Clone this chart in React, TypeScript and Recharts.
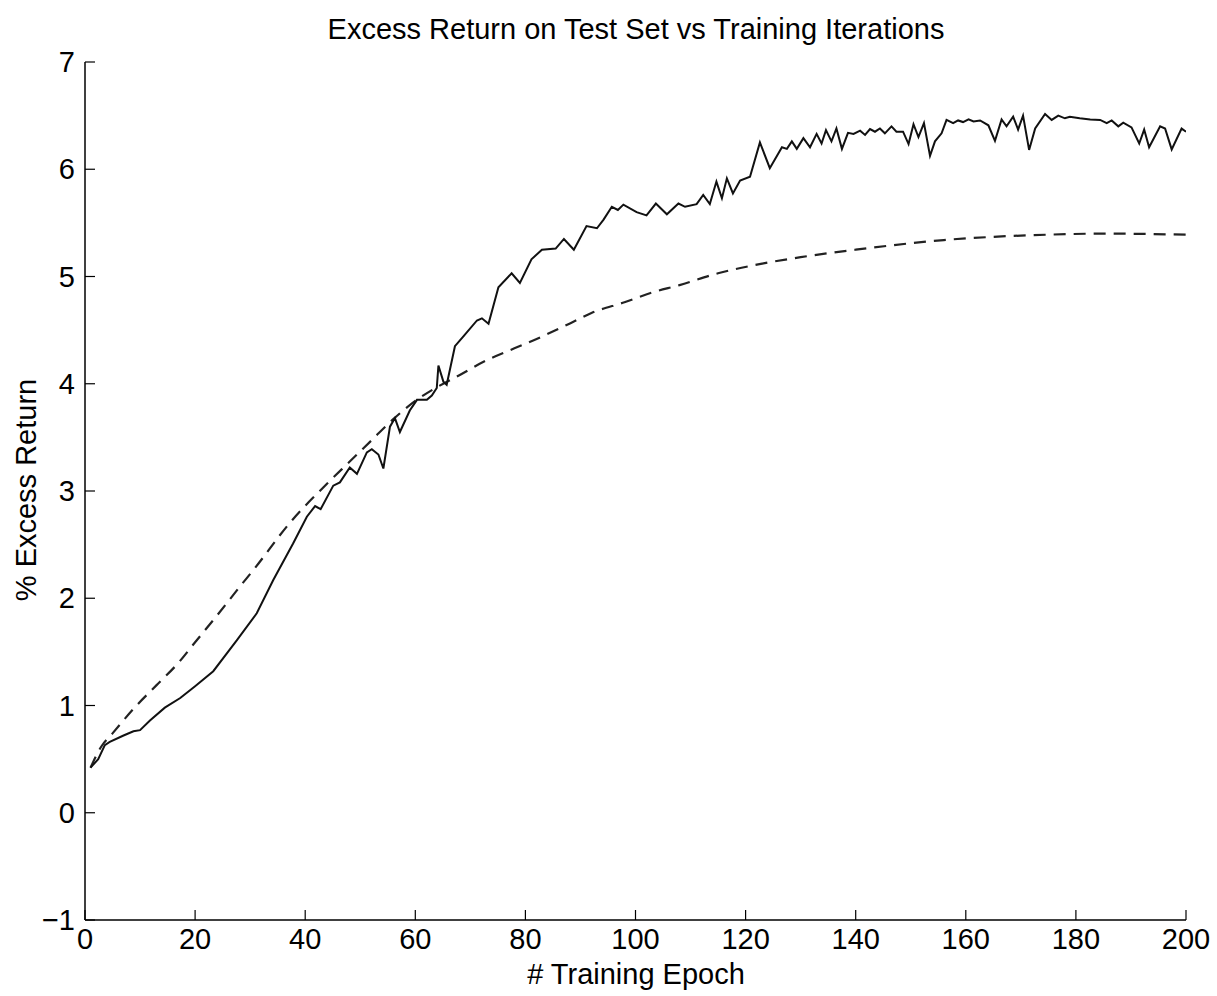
import { LineChart, Line, XAxis, YAxis } from "recharts"

// solid line: test set excess return
const testEpochs = [
  1, 2.4, 3.6, 4.5, 7, 8.8, 10, 11.8, 14.5, 17.3, 20, 23.3, 27.6, 31.2, 34.2, 37.8, 40.3, 41.8, 42.8, 45.1,
  46.3, 48.1, 49.4, 51.2, 52.1, 53.3, 54.2, 55.4, 56.3, 57.2, 59, 60.3, 62.1, 63, 63.9, 64.2, 65.1, 65.7, 67.2, 68.7,
  71.2, 72.1, 73.3, 75.1, 77.5, 79, 81.1, 83, 85.5, 87, 88.8, 91.1, 93, 94.2, 95.7, 96.8, 97.8, 100.2, 102, 103.7,
  105.7, 107.8, 109, 111.1, 112.3, 113.5, 114.7, 115.7, 116.6, 117.7, 119, 120.8, 122.6, 124.4, 126.6, 127.5, 128.4, 129.3, 130.5, 131.7,
  132.9, 133.8, 134.6, 135.6, 136.5, 137.5, 138.6, 139.6, 140.8, 141.7, 142.6, 143.5, 144.4, 145.3, 146.5, 147.4, 148.6, 149.6, 150.5, 151.4,
  152.4, 153.5, 154.4, 155.6, 156.5, 157.7, 158.6, 159.5, 160.5, 161.4, 162.6, 164.1, 165.3, 166.5, 167.4, 168.6, 169.5, 170.4, 171.5, 172.6,
  174.4, 175.6, 176.8, 178, 178.9, 180.7, 182.6, 184.4, 185.6, 186.5, 187.7, 188.6, 190.1, 191.5, 192.4, 193.3, 195.3, 196.2, 197.4, 199.2,
  200,
]
const testReturns = [
  0.42, 0.5, 0.63, 0.66, 0.72, 0.76, 0.77, 0.86, 0.98, 1.07, 1.18, 1.32, 1.61, 1.86, 2.17, 2.51, 2.76, 2.86, 2.83, 3.05,
  3.08, 3.22, 3.16, 3.36, 3.39, 3.34, 3.21, 3.6, 3.68, 3.55, 3.75, 3.85, 3.85, 3.89, 3.96, 4.17, 4.02, 3.99, 4.35, 4.44,
  4.59, 4.61, 4.56, 4.9, 5.03, 4.94, 5.16, 5.25, 5.26, 5.35, 5.25, 5.47, 5.45, 5.53, 5.65, 5.62, 5.67, 5.6, 5.57, 5.68,
  5.58, 5.68, 5.65, 5.675, 5.76, 5.675, 5.885, 5.73, 5.915, 5.775, 5.895, 5.93, 6.25, 6.01, 6.205, 6.19, 6.26, 6.19, 6.29, 6.205,
  6.33, 6.24, 6.365, 6.26, 6.38, 6.19, 6.34, 6.33, 6.36, 6.32, 6.375, 6.35, 6.38, 6.335, 6.4, 6.35, 6.35, 6.235, 6.42, 6.3,
  6.43, 6.125, 6.26, 6.335, 6.46, 6.43, 6.455, 6.44, 6.465, 6.445, 6.455, 6.41, 6.265, 6.465, 6.4, 6.49, 6.37, 6.5, 6.18, 6.38,
  6.515, 6.46, 6.5, 6.475, 6.49, 6.475, 6.465, 6.46, 6.43, 6.455, 6.4, 6.435, 6.39, 6.24, 6.37, 6.205, 6.4, 6.38, 6.185, 6.38,
  6.35,
]

// dashed line: smooth reference curve
const refEpochs = [1, 3, 5, 9, 13, 17, 20, 24, 28, 31, 37, 44, 48, 52, 56, 60, 64, 68, 73, 78, 83, 88, 92, 98, 103, 108, 115, 123, 130, 140, 150, 156, 165, 175, 185, 200]
const refReturns = [0.42, 0.62, 0.74, 0.98, 1.19, 1.4, 1.59, 1.84, 2.1, 2.29, 2.69, 3.07, 3.27, 3.47, 3.67, 3.84, 3.97, 4.08, 4.22, 4.33, 4.44, 4.56, 4.66, 4.76, 4.85, 4.92, 5.03, 5.12, 5.18, 5.25, 5.31, 5.34, 5.37, 5.39, 5.4, 5.39]

const xTicks = [0, 20, 40, 60, 80, 100, 120, 140, 160, 180, 200]
const yTicks = [-1, 0, 1, 2, 3, 4, 5, 6, 7]

const testData = testEpochs.map((epoch, i) => ({ epoch, value: testReturns[i] }))
const refData = refEpochs.map((epoch, i) => ({ epoch, value: refReturns[i] }))

const font = "'Liberation Sans', Arial, Helvetica, sans-serif"
const TICK = 10
// plot box edges
const BOX_L = 85
const BOX_R = 1186
const BOX_T = 62
const BOX_B = 920

function BottomTick({ x, payload }: any) {
  return (
    <g>
      <line x1={x} y1={BOX_B} x2={x} y2={BOX_B - TICK} stroke="#000" strokeWidth={1.2} />
      <text x={x} y={BOX_B + 29} textAnchor="middle" fontSize={29} fontFamily={font} fill="#000">
        {payload.value}
      </text>
    </g>
  )
}

function TopTick({ x }: any) {
  return <line x1={x} y1={BOX_T} x2={x} y2={BOX_T + TICK} stroke="#000" strokeWidth={1.2} />
}

function LeftTick({ y, payload }: any) {
  const label = payload.value < 0 ? "\u2212" + Math.abs(payload.value) : String(payload.value)
  return (
    <g>
      <line x1={BOX_L} y1={y} x2={BOX_L + TICK} y2={y} stroke="#000" strokeWidth={1.2} />
      <text x={BOX_L - 10} y={y + 10} textAnchor="end" fontSize={29} fontFamily={font} fill="#000">
        {label}
      </text>
    </g>
  )
}

function RightTick({ y }: any) {
  return <line x1={BOX_R} y1={y} x2={BOX_R - TICK} y2={y} stroke="#000" strokeWidth={1.2} />
}

export default function App() {
  return (
    <div style={{ position: "absolute", left: 0, top: 0, background: "#fff" }}>
      <LineChart width={1217} height={996} margin={{ top: 62, right: 31, bottom: 0, left: 0 }}>
        <XAxis
          xAxisId="bottom"
          dataKey="epoch"
          type="number"
          domain={[0, 200]}
          ticks={xTicks}
          height={76}
          tickSize={0}
          tickMargin={0}
          tickLine={false}
          axisLine={{ stroke: "#000", strokeWidth: 1.5 }}
          tick={(p: any) => <BottomTick {...p} />}
          interval={0}
          allowDataOverflow
        />
        <XAxis
          xAxisId="top"
          orientation="top"
          dataKey="epoch"
          type="number"
          domain={[0, 200]}
          ticks={xTicks}
          height={0}
          tickSize={0}
          tickMargin={0}
          tickLine={false}
          axisLine={{ stroke: "#000", strokeWidth: 1.5 }}
          tick={(p: any) => <TopTick {...p} />}
          interval={0}
        />
        <YAxis
          yAxisId="left"
          type="number"
          domain={[-1, 7]}
          ticks={yTicks}
          width={85}
          tickSize={0}
          tickMargin={0}
          tickLine={false}
          axisLine={{ stroke: "#000", strokeWidth: 1.5 }}
          tick={(p: any) => <LeftTick {...p} />}
          interval={0}
          allowDataOverflow
        />
        <YAxis
          yAxisId="right"
          orientation="right"
          type="number"
          domain={[-1, 7]}
          ticks={yTicks}
          width={0}
          tickSize={0}
          tickMargin={0}
          tickLine={false}
          axisLine={{ stroke: "#000", strokeWidth: 1.5 }}
          tick={(p: any) => <RightTick {...p} />}
          interval={0}
        />
        <Line
          xAxisId="bottom"
          yAxisId="left"
          data={refData}
          dataKey="value"
          type="monotone"
          stroke="#222"
          strokeWidth={2.2}
          strokeDasharray="12 8"
          dot={false}
          activeDot={false}
          isAnimationActive={false}
        />
        <Line
          xAxisId="bottom"
          yAxisId="left"
          data={testData}
          dataKey="value"
          type="linear"
          stroke="#111"
          strokeWidth={2}
          dot={false}
          activeDot={false}
          isAnimationActive={false}
        />
        <text x={636} y={39} textAnchor="middle" fontSize={29} fontFamily={font} fill="#000">
          Excess Return on Test Set vs Training Iterations
        </text>
        <text x={636} y={984} textAnchor="middle" fontSize={29} fontFamily={font} fill="#000">
          # Training Epoch
        </text>
        <text
          x={36}
          y={490}
          textAnchor="middle"
          fontSize={29}
          fontFamily={font}
          fill="#000"
          transform="rotate(-90 36 490)"
        >
          % Excess Return
        </text>
      </LineChart>
    </div>
  )
}
